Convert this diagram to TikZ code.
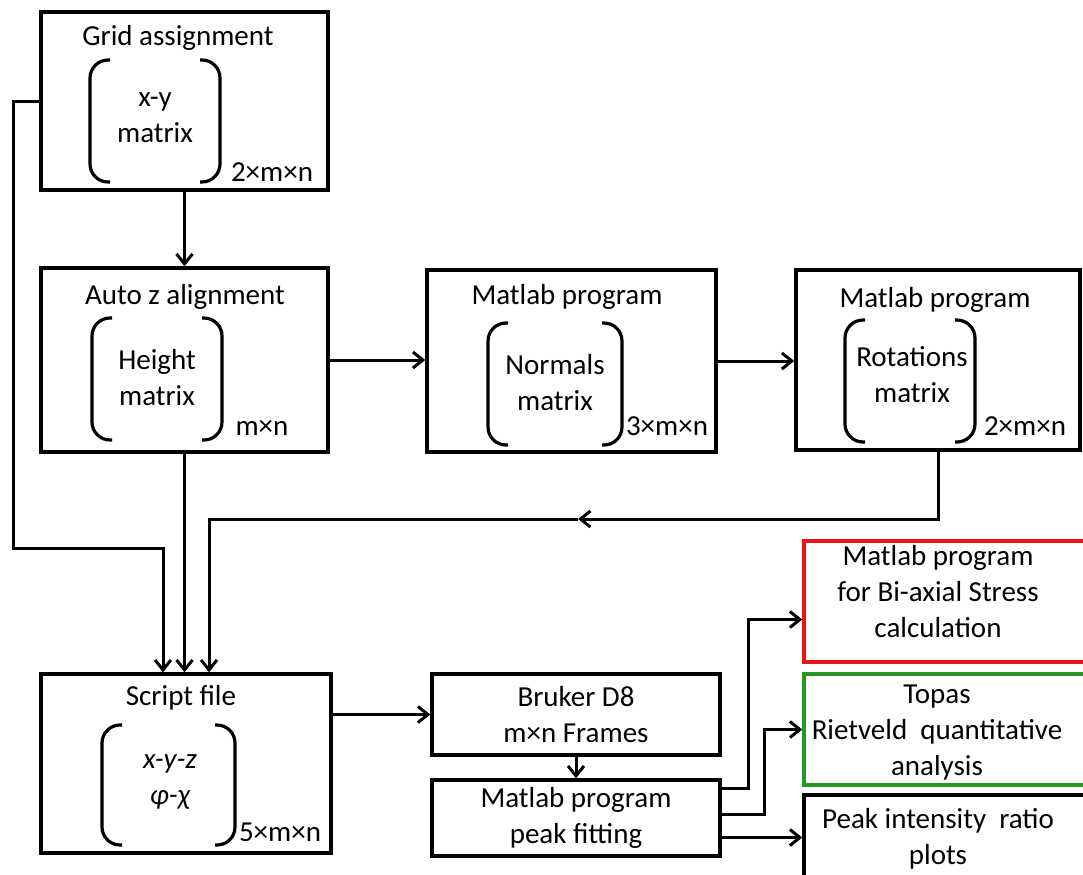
\documentclass[tikz,border=0pt]{standalone}
\usepackage{fontspec}
\setmainfont{Carlito}
\usetikzlibrary{positioning,arrows.meta}
\definecolor{boxred}{RGB}{232,20,20}
\definecolor{boxgreen}{RGB}{38,150,38}

\begin{document}
\begin{tikzpicture}[x=0.5pt,y=-0.5pt,
    box/.style={rectangle, draw=black, line width=1.7pt, inner sep=0pt,
        font=\fontsize{14.5pt}{18pt}\selectfont, align=center},
    redbox/.style={box, draw=boxred},
    greenbox/.style={box, draw=boxgreen},
    txt/.style={font=\fontsize{14.5pt}{18pt}\selectfont, align=center, inner sep=0pt},
    paren/.style={line width=1.6pt, rounded corners=9pt},
    line/.style={line width=1.5pt},
    >={Straight Barb[length=5pt,width=8pt]}
]
\useasboundingbox (0,0) rectangle (1083,874);

\node (Grid) [box, minimum width=143.5pt, minimum height=89pt] at (184.5,101) {};
\node (GridTitle) [txt] at (178,38) {Grid assignment};
\node (GridMat) [txt] at (155,118) {x-y\\matrix};
\node (GridSize) [txt] at (272,172) {2×m×n};
\draw[paren] (110,60) -- (90,60) -- (90,182) -- (110,182);
\draw[paren] (200,60) -- (220,60) -- (220,182) -- (200,182);

\node (Auto) [box, minimum width=143.5pt, minimum height=92pt] at (184.5,360) {};
\node (AutoTitle) [txt] at (185,297) {Auto z alignment};
\node (AutoMat) [txt] at (157,378) {Height\\matrix};
\node (AutoSize) [txt] at (262,428) {m×n};
\draw[paren] (112,318) -- (92,318) -- (92,440) -- (112,440);
\draw[paren] (202,318) -- (222,318) -- (222,440) -- (202,440);

\node (Normals) [box, minimum width=144.5pt, minimum height=91pt] at (571.5,361) {};
\node (NormalsTitle) [txt] at (567,297) {Matlab program};
\node (NormalsMat) [txt] at (555,383) {Normals\\matrix};
\node (NormalsSize) [txt] at (667,426) {3×m×n};
\draw[paren] (508,323) -- (488,323) -- (488,445) -- (508,445);
\draw[paren] (602,323) -- (622,323) -- (622,445) -- (602,445);

\node (Rotations) [box, minimum width=142pt, minimum height=90pt] at (938,360) {};
\node (RotationsTitle) [txt] at (935,300) {Matlab program};
\node (RotationsMat) [txt] at (912,375) {Rotations\\matrix};
\node (RotationsSize) [txt] at (1025,426) {2×m×n};
\draw[paren] (865,320) -- (845,320) -- (845,442) -- (865,442);
\draw[paren] (955,320) -- (975,320) -- (975,442) -- (955,442);

\node (Script) [box, minimum width=145pt, minimum height=89.5pt] at (186,763.5) {};
\node (ScriptTitle) [txt] at (181,698) {Script file};
\node (ScriptMat) [txt] at (170,782) {\itshape x-y-z\\\itshape φ-χ};
\node (ScriptSize) [txt] at (280,832) {5×m×n};
\draw[paren] (122,725) -- (102,725) -- (102,845) -- (122,845);
\draw[paren] (215,725) -- (235,725) -- (235,845) -- (215,845);

\node (Bruker) [box, minimum width=144pt, minimum height=40.5pt] at (576,714.5) {Bruker D8\\m×n Frames};
\node (Peak) [box, minimum width=144pt, minimum height=38pt] at (576,818) {Matlab program\\peak fitting};

\node (Stress) [redbox, minimum width=145.5pt, minimum height=60.5pt] at (949.5,601.5) {};
\node (StressTxt) [txt] at (938,592) {Matlab program\\for Bi-axial Stress\\calculation};
\node (Topas) [greenbox, minimum width=145.5pt, minimum height=55.5pt] at (949.5,729.5) {};
\node (TopasTxt) [txt] at (937,733) {Topas\\Rietveld\ \ quantitative\\analysis};
\node (Ratio) [box, minimum width=145.5pt, minimum height=42.5pt] at (949.5,837.5) {};
\node (RatioTxt) [txt] at (938,839) {Peak intensity\ \ ratio\\plots};

\coordinate (LeftBend) at (13,548);
\coordinate (BackArrow) at (578,519);

\draw[line,->] (Grid) -- (Auto);
\draw[line,->] (Grid.west) -| (LeftBend) -| ([xshift=-11.5pt]Script.north);
\draw[line,->] (Auto.south) -- (Auto.south |- Script.north);
\draw[line,->] (Auto.east) -- (Auto.east -| Normals.west);
\draw[line,->] (Normals.east) -- (Normals.east -| Rotations.west);
\draw[line,->] (Rotations.south) |- (BackArrow);
\draw[line,->] (BackArrow) -| ([xshift=11.5pt]Script.north);
\draw[line,->] (Bruker.west -| Script.east) -- (Bruker.west);
\draw[line,->] (Bruker) -- (Peak);
\draw[line,->] ([yshift=15pt]Peak.east) -- ++(13.5pt,0) |- ([yshift=-9pt]Stress.west);
\draw[line,->] ([yshift=2pt]Peak.east) -- ++(21.5pt,0) |- (Topas.west);
\draw[line,->] (Peak.east |- Ratio.west) -- (Ratio.west);
\end{tikzpicture}
\end{document}
